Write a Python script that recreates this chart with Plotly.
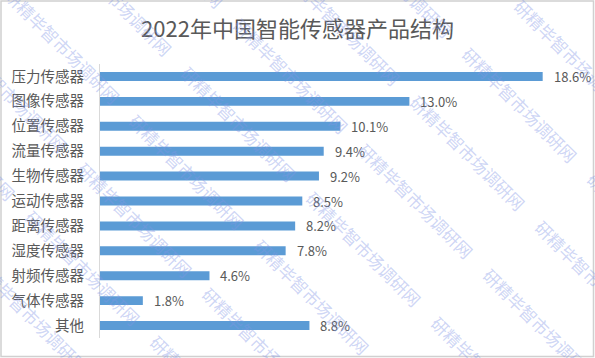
import plotly.graph_objects as go

categories = ["压力传感器", "图像传感器", "位置传感器", "流量传感器", "生物传感器",
              "运动传感器", "距离传感器", "湿度传感器", "射频传感器", "气体传感器", "其他"]
values = [18.6, 13.0, 10.1, 9.4, 9.2, 8.5, 8.2, 7.8, 4.6, 1.8, 8.8]
value_labels = [f"{v:.1f}%" for v in values]
title_text = "2022年中国智能传感器产品结构"
watermark_text = "研精毕智市场调研网"

W, H = 595, 358
ML, MR, MT, MB = 100, 19, 64, 20
PW, PH = W - ML - MR, H - MT - MB
FONT = "Noto Sans CJK SC, Noto Sans, sans-serif"
GREY = "#595959"

fig = go.Figure(go.Bar(
    x=values, y=categories, orientation="h",
    marker=dict(color="#5b9bd5", line=dict(width=0)),
    hoverinfo="skip",
))

annotations = []
for c, v, t in zip(categories, values, value_labels):
    annotations.append(dict(x=v, y=c, xref="x", yref="y", text=t, showarrow=False,
                            xanchor="left", yanchor="middle", xshift=9,
                            font=dict(size=13, color=GREY, family=FONT)))

def px2paper(px, py):
    return (px - ML) / PW, (H - MB - py) / PH

# watermark lattice (centres in pixels)
P0 = (187, 171)
u = (52, -48)
v = (125, 125)
for i in range(-8, 10):
    for j in range(-5, 6):
        cx = P0[0] + i * u[0] + j * v[0]
        cy = P0[1] + i * u[1] + j * v[1]
        if -90 < cx < W + 90 and -90 < cy < H + 90:
            xp, yp = px2paper(cx, cy)
            annotations.append(dict(x=xp, y=yp, xref="paper", yref="paper",
                                    text=watermark_text, showarrow=False, textangle=45,
                                    xanchor="center", yanchor="middle",
                                    font=dict(size=17, color="rgba(130,150,230,0.40)",
                                              family=FONT)))

bx0, by0 = px2paper(1, 356.5)
bx1, by1 = px2paper(593.5, 1)

fig.update_layout(
    width=W, height=H,
    margin=dict(l=ML, r=MR, t=MT, b=MB, autoexpand=False),
    paper_bgcolor="white", plot_bgcolor="white",
    title=dict(text=title_text, x=0.5, xanchor="center", xref="container",
               y=1 - 29 / H, yanchor="middle", yref="container",
               font=dict(size=22, color=GREY, family=FONT)),
    xaxis=dict(range=[0, 20], visible=False, fixedrange=True),
    yaxis=dict(categoryorder="array", categoryarray=categories[::-1],
               showline=True, linecolor="#d9d9d9", linewidth=1,
               ticks="", ticklabelstandoff=12, showgrid=False, fixedrange=True,
               tickfont=dict(size=14.5, color=GREY, family=FONT)),
    bargap=0.64,
    showlegend=False,
    hovermode=False,
    annotations=annotations,
    shapes=[dict(type="rect", xref="paper", yref="paper",
                 x0=bx0, y0=by0, x1=bx1, y1=by1,
                 line=dict(color="#d0d0d0", width=1.5), fillcolor="rgba(0,0,0,0)")],
)

fig.write_html("out.html", config={"displayModeBar": False},
               post_script="document.body.style.margin='0';document.body.style.overflow='hidden';")
